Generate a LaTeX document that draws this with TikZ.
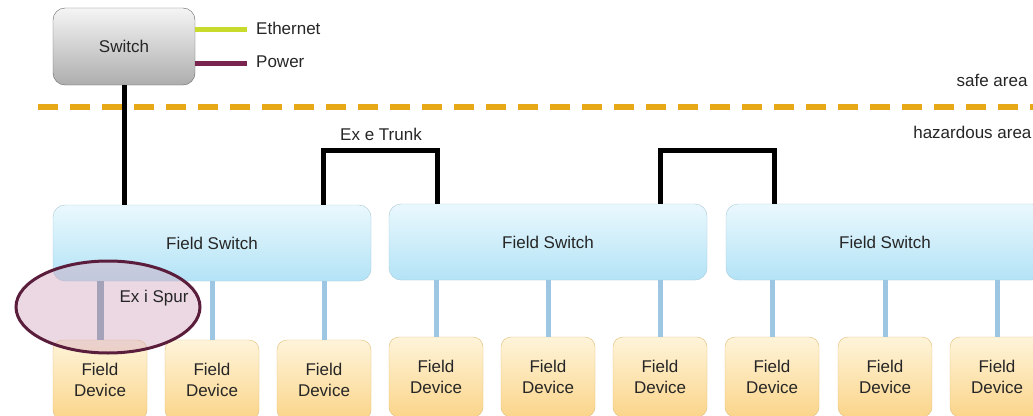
\documentclass[tikz,border=0pt]{standalone}
\usepackage{fontspec}
\setmainfont{Liberation Sans}
\definecolor{fstop}{HTML}{EAF8FD}
\definecolor{fsbot}{HTML}{B3E3F6}
\definecolor{fsline}{HTML}{A9C9D9}
\definecolor{devtop}{HTML}{FEF4DA}
\definecolor{devbot}{HTML}{FBD58A}
\definecolor{devline}{HTML}{E4BE78}
\definecolor{spurblue}{HTML}{9DC6E2}
\definecolor{ethgreen}{HTML}{C8DA2C}
\definecolor{powerred}{HTML}{7A2550}
\definecolor{safeorange}{HTML}{E6A817}
\definecolor{spurpink}{HTML}{D4A9BF}
\definecolor{spurring}{HTML}{5A1E3C}
\tikzstyle{txt}=[font=\fontsize{17}{21}\selectfont, text=black!85]
\tikzstyle{box}=[txt, draw, rounded corners=12pt, inner sep=0pt]
\tikzstyle{switchbox}=[box, draw=black!60, top color=black!4, bottom color=black!32, minimum width=142pt, minimum height=77pt]
\tikzstyle{fieldswitch}=[box, draw=fsline, top color=fstop, bottom color=fsbot, minimum width=318pt, minimum height=76pt]
\tikzstyle{fielddev}=[box, draw=devline, top color=devtop, bottom color=devbot, minimum width=94pt, minimum height=80pt, rounded corners=10pt, align=center]
\tikzstyle{cable}=[line width=5pt]
\tikzstyle{spur}=[line width=5pt, spurblue]

\begin{document}
\begin{tikzpicture}[x=1pt, y=-1pt]
        \clip (0,0) rectangle (1033,415);
        \fill[white] (0,0) rectangle (1033,415);
        % safe / hazardous border
        \draw[safeorange, line width=6pt, dash pattern=on 20pt off 12pt] (38,107) -- (1040,107);
        \node[txt, anchor=east] (safe) at (1031,80) {safe area};
        \node[txt, anchor=east] (haz) at (1035,132) {hazardous area};
        % switch and legend
        \node[switchbox] (sw) at (124,46.5) {Switch};
        \node[txt, anchor=west, inner sep=0pt] (eth) at (256,28) {Ethernet};
        \node[txt, anchor=west, inner sep=0pt] (pwr) at (256,62) {Power};
        \coordinate (ethend) at (247,29);
        \coordinate (pwrend) at (247,63);
        \draw[ethgreen, cable] (sw.east |- ethend) -- (ethend);
        \draw[powerred, cable] (sw.east |- pwrend) -- (pwrend);
        % field switches
        \node[fieldswitch] (fs1) at (212,243) {Field Switch};
        \node[fieldswitch] (fs2) at (548,242) {Field Switch};
        \node[fieldswitch] (fs3) at (885,242) {Field Switch};
        \draw[cable] (sw.south) -- (sw.south |- fs1.north);
        % trunks
        \coordinate (t1a) at (323,150);
        \coordinate (t1b) at (437,150);
        \coordinate (t2a) at (660,150);
        \coordinate (t2b) at (774,150);
        \draw[cable] (fs1.north -| t1a) -- (t1a) -- (t1b) -- (fs2.north -| t1b);
        \draw[cable] (fs2.north -| t2a) -- (t2a) -- (t2b) -- (fs3.north -| t2b);
        \node[txt, inner sep=0pt] (trunk) at (381,134) {Ex e Trunk};
        % field devices
        \foreach \i/\x/\fs in {1/100/fs1, 2/212/fs1, 3/324/fs1} {
            \node[fielddev] (dev\i) at (\x,380) {Field\\Device};
            \draw[spur] (dev\i.north) -- (dev\i.north |- \fs.south);
        }
        \foreach \i/\x/\fs in {4/436/fs2, 5/548/fs2, 6/660/fs2, 7/772/fs3, 8/885/fs3, 9/997/fs3} {
            \node[fielddev] (dev\i) at (\x,377) {Field\\Device};
            \draw[spur] (dev\i.north) -- (dev\i.north |- \fs.south);
        }
        \draw[spur, line width=7pt, spurblue!80!black] (dev1.north) -- (dev1.north |- fs1.south);
        % intrinsically safe spur
        \draw[spurring, line width=3pt, fill=spurpink, fill opacity=0.45] (108,307) ellipse (92 and 46);
        \node[txt, inner sep=0pt] (exi) at (154,298) {Ex i Spur};
    \end{tikzpicture}
\end{document}
